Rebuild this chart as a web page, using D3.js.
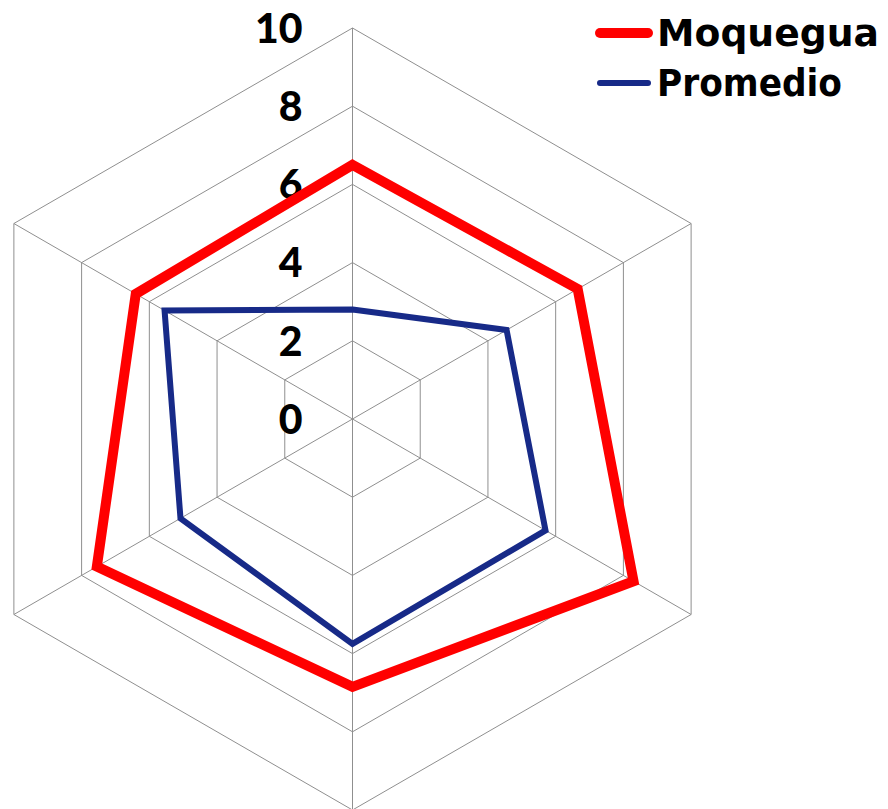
<!DOCTYPE html>
<html><head><meta charset="utf-8">
<script src="https://cdn.jsdelivr.net/npm/d3@7"></script>
<style>body{margin:0;background:#fff}svg{display:block}</style>
</head><body>
<script>
const axes = ["A1","A2","A3","A4","A5","A6"];
const moquegua = [6.5, 6.65, 8.3, 6.85, 7.55, 6.4];
const promedio = [2.8, 4.55, 5.7, 5.75, 5.08, 5.55];
const tickValues = [0, 2, 4, 6, 8, 10];
const seriesNames = ["Moquegua", "Promedio"];
const seriesColors = ["#ff0000", "#172a88"];

const W = 888, H = 809;
const cx = 352.5, cy = 419, R = 391;
const svg = d3.select("body").append("svg").attr("width", W).attr("height", H);
const r = d3.scaleLinear().domain([0, 10]).range([0, R]);
const ang = d3.scaleLinear().domain([0, axes.length]).range([0, 2 * Math.PI]);
const pt = (i, v) => [cx + r(v) * Math.sin(ang(i)), cy - r(v) * Math.cos(ang(i))];

const g = svg.append("g");
tickValues.filter(t => t > 0).forEach(t => {
  g.append("path")
    .attr("d", d3.line()(axes.map((a, i) => pt(i, t))) + "Z")
    .attr("fill", "none").attr("stroke", "#8f8f8f").attr("stroke-width", 1);
});
axes.forEach((a, i) => {
  const [x, y] = pt(i, 10);
  g.append("line").attr("x1", cx).attr("y1", cy).attr("x2", x).attr("y2", y)
    .attr("stroke", "#8f8f8f").attr("stroke-width", 1);
});
g.selectAll("text.tick").data(tickValues).join("text")
  .attr("class", "tick")
  .attr("x", cx - 50).attr("y", d => cy - r(d))
  .attr("dy", "0.36em")
  .attr("text-anchor", "end")
  .attr("font-family", "Lato, 'DejaVu Sans', sans-serif")
  .attr("font-weight", 900).attr("font-size", 41)
  .text(d => d);

const data = [moquegua, promedio];
const widths = [10, 6];
data.forEach((vals, k) => {
  g.append("path")
    .attr("d", d3.line()(vals.map((v, i) => pt(i, v))) + "Z")
    .attr("fill", "none").attr("stroke", seriesColors[k])
    .attr("stroke-width", widths[k]).attr("stroke-linejoin", "miter");
});

const lg = svg.append("g");
const legendLens = [222, 185];
seriesNames.forEach((n, k) => {
  const y = 33 + k * 50;
  lg.append("line").attr("x1", 600).attr("x2", 648).attr("y1", y).attr("y2", y)
    .attr("stroke", seriesColors[k]).attr("stroke-width", widths[k]).attr("stroke-linecap", "round");
  lg.append("text").attr("x", 657).attr("y", y).attr("dy", "0.36em")
    .attr("font-family", "'DejaVu Sans', sans-serif")
    .attr("font-weight", "bold").attr("font-size", 37)
    .attr("textLength", legendLens[k]).attr("lengthAdjust", "spacingAndGlyphs")
    .text(n);
});
</script>
</body></html>
